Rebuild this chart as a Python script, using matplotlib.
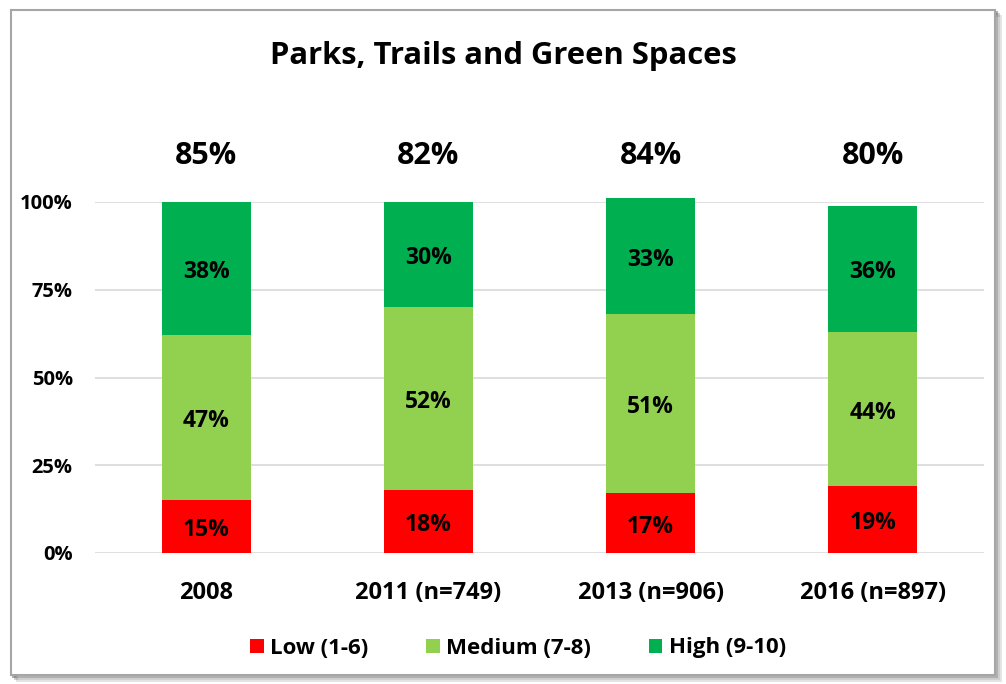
#! /usr/bin/env python3
# Parks, Trails and Green Spaces - stacked satisfaction bars

import matplotlib.pyplot as plt
from matplotlib.patches import Rectangle

years = ["2008", "2011 (n=749)", "2013 (n=906)", "2016 (n=897)"]
low = [15, 18, 17, 19]
medium = [47, 52, 51, 44]
high = [38, 30, 33, 36]
top_scores = [85, 82, 84, 80]
series_names = ["Low (1-6)", "Medium (7-8)", "High (9-10)"]
colors = ["#FF0000", "#92D050", "#00B050"]
yticks = [0, 25, 50, 75, 100]

plt.rcParams['font.family'] = ['Open Sans', 'DejaVu Sans']
plt.rcParams['font.weight'] = 'bold'


def main():
    fig = plt.figure(figsize=(10.06, 6.84), dpi=100)

    # frame with a soft shadow
    for i, a in enumerate([0.10, 0.18, 0.30]):
        off = (3 - i) * 0.002
        fig.patches.append(Rectangle((0.011 + off, 0.013 - off * 1.4), 0.978, 0.972,
                                     transform=fig.transFigure, facecolor='none',
                                     edgecolor=(0, 0, 0, a), lw=1.5, zorder=-2))
    fig.patches.append(Rectangle((0.011, 0.013), 0.978, 0.972, transform=fig.transFigure,
                                 facecolor='white', edgecolor='#A6A6A6', lw=1.5, zorder=-1))

    ax = fig.add_axes([95 / 1006, 1 - 553 / 684, 889 / 1006, 351 / 684])
    ax.set_facecolor('none')
    x = range(len(years))
    bottom = [0] * len(years)
    for vals, name, c in zip([low, medium, high], series_names, colors):
        bars = ax.bar(x, vals, bottom=bottom, width=0.4, color=c, label=name,
                      zorder=3, clip_on=False)
        for b, v, bt in zip(bars, vals, bottom):
            ax.text(b.get_x() + b.get_width() / 2, bt + v / 2 - 1, f"{v}%",
                    ha='center', va='center', fontsize=16.5, fontweight='bold', zorder=4)
        bottom = [b + v for b, v in zip(bottom, vals)]

    for i, s in enumerate(top_scores):
        ax.text(i, 113, f"{s}%", ha='center', va='center', fontsize=22, fontweight='bold')

    ax.set_xlim(-0.5, len(years) - 0.5)
    ax.set_ylim(0, 100)
    ax.set_yticks(yticks)
    ax.set_yticklabels([f"{t}%" for t in yticks], fontsize=14.5, fontweight='bold')
    ax.set_xticks(list(x))
    ax.set_xticklabels(years, fontsize=17, fontweight='bold')
    ax.tick_params(axis='x', length=0, pad=20)
    ax.tick_params(axis='y', length=0, pad=16)
    ax.grid(axis='y', color='#D9D9D9', lw=1.2, zorder=0)
    for sp in ax.spines.values():
        sp.set_visible(False)

    fig.text(0.5, 1 - 56 / 684, "Parks, Trails and Green Spaces", ha='center', va='center',
             fontsize=22.3, fontweight='bold')
    fig.legend(loc='center', bbox_to_anchor=(0.515, 1 - 648 / 684), ncol=3, frameon=False,
               fontsize=16, handlelength=0.6, handleheight=0.6, handletextpad=0.3,
               columnspacing=2.6)

    plt.savefig("out.png", dpi=100)
    plt.close()


if __name__ == '__main__':
    main()
